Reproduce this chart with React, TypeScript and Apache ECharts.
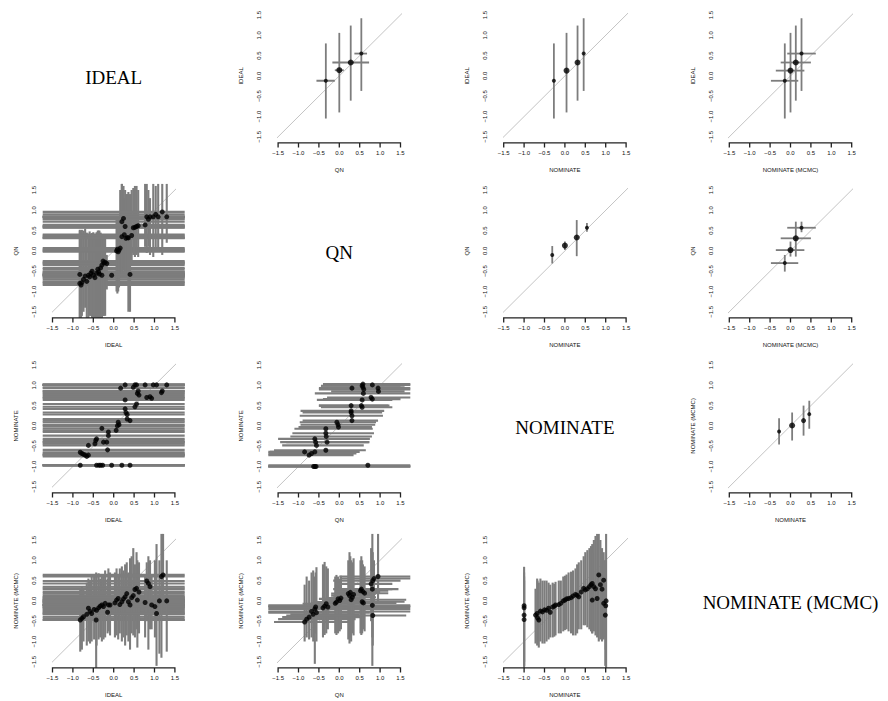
import React, { useEffect, useRef } from "react";
import * as echarts from "echarts";

type V = number | null;
type Pt = [number, number, V, V, V, V]; // x, y, xlo, xhi, ylo, yhi

const VAR_NAMES = ["IDEAL", "QN", "NOMINATE", "NOMINATE (MCMC)"];
const TICKS = [-1.5, -1.0, -0.5, 0.0, 0.5, 1.0, 1.5];
const TICK_MIN = -1.5;
const TICK_MAX = 1.5;
const TICK_STEP = 0.5;

// ---------- upper-triangle panels (aggregated estimates) ----------
const idealVsQn: Pt[] = [
  [-0.33, -0.12, -0.56, -0.11, -1.05, 0.8],
  [0.0, 0.14, -0.11, 0.11, -0.9, 1.06],
  [0.28, 0.33, -0.17, 0.73, -0.61, 1.24],
  [0.54, 0.55, 0.37, 0.68, -0.37, 1.42],
];
const idealVsNom: Pt[] = [
  [-0.27, -0.12, null, null, -1.05, 0.8],
  [0.04, 0.13, null, null, -0.9, 1.06],
  [0.31, 0.33, null, null, -0.61, 1.24],
  [0.46, 0.55, null, null, -0.37, 1.42],
];
const idealVsMcmc: Pt[] = [
  [-0.14, -0.12, -0.48, 0.19, -1.05, 0.8],
  [0.0, 0.13, -0.36, 0.34, -0.9, 1.06],
  [0.13, 0.33, -0.24, 0.5, -0.61, 1.24],
  [0.27, 0.55, -0.08, 0.62, -0.37, 1.42],
];
const qnVsNom: Pt[] = [
  [-0.31, -0.1, null, null, -0.31, 0.12],
  [0.0, 0.13, null, null, 0.02, 0.23],
  [0.29, 0.33, null, null, -0.13, 0.76],
  [0.54, 0.57, null, null, 0.47, 0.69],
];
const qnVsMcmc: Pt[] = [
  [-0.14, -0.3, -0.48, 0.19, -0.51, -0.1],
  [0.0, 0.02, -0.36, 0.34, -0.14, 0.23],
  [0.13, 0.31, -0.24, 0.5, -0.14, 0.72],
  [0.27, 0.57, -0.08, 0.62, 0.46, 0.72],
];
const mcmcVsNomAgg: Pt[] = [
  [-0.28, -0.14, null, null, -0.46, 0.19],
  [0.04, 0.01, null, null, -0.36, 0.33],
  [0.32, 0.13, null, null, -0.24, 0.5],
  [0.46, 0.29, null, null, -0.07, 0.62],
];
const aggSizes = [4, 6, 6, 4];

// ---------- lower-triangle panels (individual estimates) ----------
const qnVsIdeal: Pt[] = [
  [-0.83, -0.8, -2, 2, -1.7, 0.5],
  [-0.8, -0.84, -2, 2, -1.7, 0.45],
  [-0.78, -0.78, -2, 2, -1.6, 0.52],
  [-0.83, -0.58, -2, 2, -1.7, 0.52],
  [-0.74, -0.7, -2, 2, -1.5, 0.5],
  [-0.7, -0.62, -2, 2, -1.4, 0.55],
  [-0.66, -0.75, -2, 2, -1.7, 0.45],
  [-0.62, -0.6, -2, 2, -1.7, 0.42],
  [-0.59, -0.64, -2, 2, -1.6, 0.48],
  [-0.56, -0.55, -2, 2, -1.6, 0.38],
  [-0.53, -0.5, -2, 2, -1.7, 0.44],
  [-0.5, -0.6, -2, 2, -1.7, 0.46],
  [-0.46, -0.66, -2, 2, -1.7, 0.4],
  [-0.42, -0.55, -2, 2, -1.7, 0.46],
  [-0.39, -0.45, -2, 2, -1.7, 0.5],
  [-0.37, -0.52, -2, 2, -1.7, 0.5],
  [-0.35, -0.57, -2, 2, -1.7, 0.5],
  [-0.32, -0.42, -2, 2, -1.7, 0.45],
  [-0.29, -0.6, -2, 2, -1.7, 0.38],
  [-0.29, -0.35, -2, 2, -1.7, 0.38],
  [-0.26, -0.25, -2, 2, -1.6, 0.4],
  [-0.24, -0.3, -2, 2, -1.6, 0.38],
  [-0.21, -0.28, -2, 2, -1.6, 0.36],
  [-0.17, -0.31, -2, 2, -0.95, -0.1],
  [-0.05, -0.6, -2, 2, null, null],
  [0.07, 0.0, -2, 2, -1.0, 0.8],
  [0.09, 0.04, -2, 2, -1.05, 0.85],
  [0.11, -0.02, -2, 2, -1.0, 0.8],
  [0.13, 0.02, -2, 2, -0.9, 0.78],
  [0.16, 0.07, -2, 2, -0.5, 1.5],
  [0.2, 0.72, -2, 2, -0.5, 1.7],
  [0.2, 0.35, -2, 2, -0.6, 1.7],
  [0.24, 0.8, -2, 2, -0.4, 1.6],
  [0.26, 0.4, -2, 2, -0.5, 1.3],
  [0.28, 0.6, -2, 2, -0.5, 1.5],
  [0.3, 0.31, -2, 2, -0.6, 1.4],
  [0.34, 0.33, -2, 2, -0.6, 1.4],
  [0.36, 0.32, -2, 2, -1.5, 1.45],
  [0.4, -0.58, -2, 2, -1.5, 1.4],
  [0.44, 0.38, -2, 2, -0.3, 1.5],
  [0.48, 0.57, -2, 2, -0.1, 1.55],
  [0.52, 0.58, -2, 2, -0.15, 1.6],
  [0.56, 0.6, -2, 2, -0.1, 1.6],
  [0.6, 0.62, -2, 2, -0.15, 1.5],
  [0.77, 0.64, -2, 2, 0.1, 1.7],
  [0.81, 0.84, -2, 2, -0.05, 1.7],
  [0.85, 0.78, -2, 2, 0.1, 1.5],
  [0.89, 0.84, -2, 2, -0.1, 1.3],
  [0.97, 0.84, -2, 2, -0.15, 1.7],
  [1.03, 0.9, -2, 2, 0.05, 1.6],
  [1.09, 0.84, -2, 2, 0.0, 1.7],
  [1.19, 0.96, -2, 2, -0.1, 1.7],
  [1.3, 0.84, -2, 2, 0.2, 1.7],
];

const nomVsIdeal: Pt[] = [
  [-0.82, -0.97, -2, 2, null, null],
  [-0.42, -0.97, -2, 2, null, null],
  [-0.36, -0.97, -2, 2, null, null],
  [-0.32, -0.97, -2, 2, null, null],
  [-0.27, -0.97, -2, 2, null, null],
  [-0.05, -0.97, -2, 2, null, null],
  [0.2, -0.97, -2, 2, null, null],
  [0.4, -0.97, -2, 2, null, null],
  [-0.82, -0.65, -2, 2, null, null],
  [-0.78, -0.68, -2, 2, null, null],
  [-0.74, -0.7, -2, 2, null, null],
  [-0.7, -0.72, -2, 2, null, null],
  [-0.66, -0.75, -2, 2, null, null],
  [-0.62, -0.72, -2, 2, null, null],
  [-0.15, -0.59, -2, 2, null, null],
  [-0.62, -0.48, -2, 2, null, null],
  [-0.46, -0.44, -2, 2, null, null],
  [-0.42, -0.32, -2, 2, null, null],
  [-0.25, -0.4, -2, 2, null, null],
  [-0.17, -0.4, -2, 2, null, null],
  [-0.44, -0.36, -2, 2, null, null],
  [-0.29, -0.06, -2, 2, null, null],
  [-0.13, -0.24, -2, 2, null, null],
  [-0.13, -0.15, -2, 2, null, null],
  [0.06, -0.11, -2, 2, null, null],
  [0.09, 0.0, -2, 2, null, null],
  [0.11, 0.09, -2, 2, null, null],
  [0.13, 0.03, -2, 2, null, null],
  [0.17, 0.93, -2, 2, null, null],
  [0.28, 1.01, -2, 2, null, null],
  [0.28, 0.64, -2, 2, null, null],
  [0.28, 0.42, -2, 2, null, null],
  [0.3, 0.33, -2, 2, null, null],
  [0.33, 0.28, -2, 2, null, null],
  [0.4, 0.13, -2, 2, null, null],
  [0.33, 0.17, -2, 2, null, null],
  [0.48, 0.95, -2, 2, null, null],
  [0.52, 1.01, -2, 2, null, null],
  [0.56, 1.01, -2, 2, null, null],
  [0.52, 0.47, -2, 2, null, null],
  [0.56, 0.54, -2, 2, null, null],
  [0.58, 0.8, -2, 2, null, null],
  [0.6, 0.86, -2, 2, null, null],
  [0.62, 0.76, -2, 2, null, null],
  [0.77, 1.01, -2, 2, null, null],
  [0.81, 0.7, -2, 2, null, null],
  [0.89, 0.72, -2, 2, null, null],
  [0.93, 0.68, -2, 2, null, null],
  [0.97, 1.01, -2, 2, null, null],
  [1.05, 1.01, -2, 2, null, null],
  [1.17, 0.82, -2, 2, null, null],
  [1.19, 0.86, -2, 2, null, null],
  [1.3, 1.01, -2, 2, null, null],
];

const nomVsQn: Pt[] = [
  [-0.6, -1.0, -2, 2, null, null],
  [-0.57, -1.0, -2, 2, null, null],
  [-0.63, -1.0, -2, 2, null, null],
  [0.7, -0.97, -2, 2, null, null],
  [-0.85, -0.64, -1.8, 0.45, null, null],
  [-0.74, -0.72, -1.8, 0.35, null, null],
  [-0.68, -0.68, -1.8, 0.42, null, null],
  [-0.6, -0.64, -1.7, 0.5, null, null],
  [-0.33, -0.6, -1.6, 0.65, null, null],
  [-0.6, -0.32, -1.5, 0.75, null, null],
  [-0.58, -0.4, -1.45, 0.72, null, null],
  [-0.56, -0.48, -1.4, 0.6, null, null],
  [-0.3, -0.4, -1.3, 0.74, null, null],
  [-0.33, -0.07, -1.1, 0.82, null, null],
  [-0.33, -0.18, -1.15, 0.85, null, null],
  [-0.32, -0.26, -1.2, 0.8, null, null],
  [-0.06, 0.09, -0.97, 0.9, null, null],
  [-0.03, 0.03, -0.95, 0.88, null, null],
  [-0.02, -0.03, -1.0, 0.8, null, null],
  [0.29, 0.5, -0.5, 1.2, null, null],
  [0.29, 0.37, -0.95, 1.1, null, null],
  [0.29, 0.33, -0.9, 1.05, null, null],
  [0.31, 0.25, -0.97, 1.07, null, null],
  [0.31, 0.13, -0.9, 0.95, null, null],
  [0.31, 0.93, -0.5, 1.7, null, null],
  [0.54, 0.5, -0.5, 1.23, null, null],
  [0.56, 0.46, -0.45, 1.3, null, null],
  [0.58, 1.03, -0.4, 1.8, null, null],
  [0.58, 0.95, -0.45, 1.5, null, null],
  [0.59, 0.8, -0.6, 1.8, null, null],
  [0.56, 0.64, -0.55, 1.3, null, null],
  [0.56, 0.99, -0.45, 1.6, null, null],
  [0.6, 0.9, -0.5, 1.8, null, null],
  [0.81, 1.01, -0.2, 1.8, null, null],
  [0.78, 0.7, -0.3, 1.8, null, null],
  [0.81, 0.66, -0.4, 1.5, null, null],
  [0.95, 0.93, -0.3, 1.8, null, null],
  [0.96, 0.85, -0.2, 1.6, null, null],
];

const mcmcVsIdeal: Pt[] = [
  [-0.82, -0.47, -2, 2, -1.25, 0.3],
  [-0.78, -0.43, -2, 2, -1.2, 0.35],
  [-0.74, -0.39, -2, 2, -1.0, 0.3],
  [-0.66, -0.33, -2, 2, -1.1, 0.45],
  [-0.62, -0.18, -2, 2, -1.0, 0.55],
  [-0.58, -0.26, -2, 2, -1.05, 0.5],
  [-0.54, -0.31, -2, 2, -1.0, 0.6],
  [-0.48, -0.21, -2, 2, -0.95, 0.62],
  [-0.43, -0.47, -2, 2, -1.7, 0.7],
  [-0.42, -0.23, -2, 2, -1.1, 0.65],
  [-0.37, -0.17, -2, 2, -0.95, 0.68],
  [-0.33, -0.13, -2, 2, -0.9, 0.55],
  [-0.29, -0.1, -2, 2, -1.0, 0.6],
  [-0.25, -0.14, -2, 2, -0.95, 0.66],
  [-0.21, -0.06, -2, 2, -0.9, 0.75],
  [-0.15, -0.28, -2, 2, -0.8, 0.55],
  [-0.13, -0.1, -2, 2, -0.75, 0.8],
  [-0.09, -0.1, -2, 2, -0.85, 0.7],
  [0.03, -0.05, -2, 2, -0.9, 0.7],
  [0.07, 0.02, -2, 2, -0.85, 0.8],
  [0.11, 0.06, -2, 2, -0.95, 0.6],
  [0.15, -0.09, -2, 2, -0.8, 0.8],
  [0.2, -0.02, -2, 2, -1.0, 0.85],
  [0.24, 0.05, -2, 2, -0.9, 0.75],
  [0.28, 0.1, -2, 2, -1.1, 0.9],
  [0.32, 0.18, -2, 2, -0.85, 0.95],
  [0.36, -0.02, -2, 2, -1.0, 0.7],
  [0.4, -0.1, -2, 2, -1.2, 1.05],
  [0.44, 0.08, -2, 2, -0.8, 1.1],
  [0.48, 0.13, -2, 2, -0.85, 1.3],
  [0.52, 0.28, -2, 2, -0.9, 0.9],
  [0.56, 0.31, -2, 2, -0.7, 1.2],
  [0.58, 0.02, -2, 2, -1.15, 1.0],
  [0.62, 0.22, -2, 2, -0.8, 0.95],
  [0.77, -0.04, -2, 2, -0.9, 0.65],
  [0.81, 0.49, -2, 2, -0.5, 0.95],
  [0.85, 0.43, -2, 2, -1.2, 1.1],
  [0.89, 0.35, -2, 2, -0.7, 1.0],
  [0.93, -0.1, -2, 2, -0.7, 0.6],
  [1.01, -0.14, -2, 2, -0.9, 1.0],
  [1.05, -0.31, -2, 2, -1.6, 1.4],
  [1.12, 0.0, -2, 2, -1.3, 1.0],
  [1.17, 0.6, -2, 2, -1.4, 1.7],
  [1.21, 0.64, -2, 2, -0.1, 1.7],
  [1.3, 0.0, -2, 2, -1.25, 1.0],
];

const mcmcVsQn: Pt[] = [
  [-0.85, -0.52, -1.6, 0.25, -1.0, 0.4],
  [-0.8, -0.45, -1.5, 0.4, -0.9, 0.6],
  [-0.74, -0.4, -1.4, 0.6, -0.95, 0.5],
  [-0.68, -0.26, -1.8, 1.8, -0.9, 0.7],
  [-0.64, -0.33, -1.2, 0.5, -1.0, 0.75],
  [-0.6, -0.2, -1.8, 1.8, -1.55, 0.6],
  [-0.56, -0.29, -1.8, 0.75, -1.0, 0.83],
  [-0.58, -0.15, -1.8, 1.8, -0.8, 0.7],
  [-0.4, -0.17, -1.0, 0.5, -0.9, 0.9],
  [-0.36, -0.13, -1.8, 1.8, -0.84, 0.96],
  [-0.32, -0.07, -0.9, 0.6, -0.8, 0.85],
  [-0.28, -0.15, -1.2, 0.9, -0.7, 0.8],
  [-0.1, -0.06, -0.7, 0.4, -0.8, 0.6],
  [-0.07, -0.03, -0.6, 0.5, -0.84, 0.64],
  [-0.03, 0.05, -0.5, 0.45, -0.8, 0.6],
  [0.01, 0.01, -0.4, 0.5, -0.75, 0.55],
  [0.04, 0.07, -0.3, 0.6, -0.7, 0.62],
  [0.22, 0.18, -0.2, 0.9, -0.95, 1.0],
  [0.25, 0.13, -0.2, 0.8, -1.05, 1.2],
  [0.27, 0.21, -0.1, 1.0, -0.9, 1.1],
  [0.29, 0.03, 0.25, 1.64, -1.0, 1.0],
  [0.32, 0.09, -0.15, 0.9, -0.8, 0.95],
  [0.35, 0.16, -0.1, 0.85, -0.85, 1.05],
  [0.52, 0.25, 0.0, 1.2, -0.8, 1.0],
  [0.54, 0.29, 0.0, 1.3, -0.84, 1.1],
  [0.56, -0.02, 0.2, 1.6, -0.8, 1.0],
  [0.58, 0.23, -0.1, 1.0, -0.6, 0.9],
  [0.59, -0.05, 0.2, 1.4, -0.7, 0.8],
  [0.62, 0.19, 0.1, 1.2, -0.75, 0.85],
  [0.78, 0.42, -0.1, 1.3, -0.5, 1.3],
  [0.81, 0.29, -0.15, 1.45, -1.6, 1.7],
  [0.81, -0.11, -1.8, 1.8, -0.9, 0.8],
  [0.82, -0.36, -1.3, 1.64, -1.1, 0.6],
  [0.95, 0.6, 0.0, 1.8, -0.05, 1.7],
  [0.85, 0.55, 0.05, 1.8, -0.2, 1.0],
  [0.82, 0.5, -0.15, 1.5, -0.4, 1.2],
];

const mcmcVsNom: Pt[] = [
  [-1.0, -0.12, null, null, -1.7, 0.84],
  [-1.0, -0.17, null, null, -1.6, 0.7],
  [-1.0, -0.35, null, null, -1.5, 0.6],
  [-1.0, -0.46, null, null, -1.6, 0.5],
  [-0.72, -0.35, null, null, -1.05, 0.3],
  [-0.68, -0.31, null, null, -1.1, 0.55],
  [-0.67, -0.42, null, null, -1.0, 0.5],
  [-0.64, -0.47, null, null, -1.15, 0.45],
  [-0.6, -0.25, null, null, -1.0, 0.55],
  [-0.55, -0.27, null, null, -1.05, 0.5],
  [-0.5, -0.22, null, null, -1.05, 0.5],
  [-0.45, -0.23, null, null, -1.0, 0.5],
  [-0.4, -0.18, null, null, -0.95, 0.45],
  [-0.36, -0.28, null, null, -0.9, 0.4],
  [-0.3, -0.15, null, null, -0.9, 0.45],
  [-0.26, -0.13, null, null, -0.88, 0.42],
  [-0.23, -0.1, null, null, -0.85, 0.47],
  [-0.15, -0.09, null, null, -0.8, 0.5],
  [-0.1, -0.06, null, null, -0.8, 0.5],
  [-0.04, 0.0, null, null, -0.75, 0.6],
  [0.0, 0.02, null, null, -0.72, 0.62],
  [0.04, 0.05, null, null, -0.7, 0.65],
  [0.09, 0.06, null, null, -0.75, 0.7],
  [0.15, 0.08, null, null, -0.8, 0.72],
  [0.2, 0.12, null, null, -0.85, 0.75],
  [0.26, 0.16, null, null, -0.85, 0.8],
  [0.3, 0.14, null, null, -0.8, 0.9],
  [0.34, 0.1, null, null, -0.7, 0.95],
  [0.4, 0.22, null, null, -0.7, 1.0],
  [0.46, 0.31, null, null, -0.6, 1.1],
  [0.5, 0.27, null, null, -0.6, 1.2],
  [0.55, 0.3, null, null, -0.65, 1.25],
  [0.6, 0.35, null, null, -0.7, 1.3],
  [0.64, 0.4, null, null, -0.75, 1.35],
  [0.67, 0.43, null, null, -0.8, 1.4],
  [0.71, 0.35, null, null, -0.75, 1.5],
  [0.67, 0.02, null, null, -0.8, 1.2],
  [0.75, 0.3, null, null, -0.85, 1.6],
  [0.79, 0.06, null, null, -0.9, 1.7],
  [0.83, 0.64, null, null, -1.0, 1.7],
  [0.87, 0.4, null, null, -0.95, 1.5],
  [0.91, 0.29, null, null, -1.0, 1.3],
  [0.95, 0.51, null, null, -0.9, 1.2],
  [0.95, -0.06, null, null, -0.95, 1.0],
  [1.01, 0.0, null, null, -1.7, 1.7],
  [0.99, -0.35, null, null, -1.6, 1.0],
  [1.0, -0.12, null, null, -1.2, 1.0],
];

interface Panel {
  row: number;
  col: number;
  xVar: number;
  yVar: number;
  pts: Pt[];
  sizes?: number[];
  agg: boolean;
}

const PANELS: Panel[] = [
  { row: 0, col: 1, xVar: 1, yVar: 0, pts: idealVsQn, sizes: aggSizes, agg: true },
  { row: 0, col: 2, xVar: 2, yVar: 0, pts: idealVsNom, sizes: aggSizes, agg: true },
  { row: 0, col: 3, xVar: 3, yVar: 0, pts: idealVsMcmc, sizes: aggSizes, agg: true },
  { row: 1, col: 0, xVar: 0, yVar: 1, pts: qnVsIdeal, agg: false },
  { row: 1, col: 2, xVar: 2, yVar: 1, pts: qnVsNom, sizes: aggSizes, agg: true },
  { row: 1, col: 3, xVar: 3, yVar: 1, pts: qnVsMcmc, sizes: aggSizes, agg: true },
  { row: 2, col: 0, xVar: 0, yVar: 2, pts: nomVsIdeal, agg: false },
  { row: 2, col: 1, xVar: 1, yVar: 2, pts: nomVsQn, agg: false },
  { row: 2, col: 3, xVar: 2, yVar: 3, pts: mcmcVsNomAgg, sizes: [4, 6, 5, 4], agg: true },
  { row: 3, col: 0, xVar: 0, yVar: 3, pts: mcmcVsIdeal, agg: false },
  { row: 3, col: 1, xVar: 1, yVar: 3, pts: mcmcVsQn, agg: false },
  { row: 3, col: 2, xVar: 2, yVar: 3, pts: mcmcVsNom, agg: false },
];

// ---------- layout ----------
const X0 = 52.5; // pixel of x = -1.5 in first column
const CW = 225.6; // column pitch
const PX = 40.8; // px per unit (x)
const Y0 = 15; // pixel of y = 1.5 in first row
const RH = 175; // row pitch
const PY = 40.6; // px per unit (y)
const XPAD = 0.24;
const YPAD = 0.15;
const XLIM = TICK_MAX + XPAD;
const YLIM = TICK_MAX + YPAD;
const TICK_LEN = 4;

const SANS = "Liberation Sans, Arial, Helvetica, sans-serif";
const SERIF = "Liberation Serif, DejaVu Serif, serif";
const BAR_GRAY = "#7d7d7d";
const AXIS_COLOR = "#222222";

const clamp = (v: number, lim: number) => Math.max(-lim, Math.min(lim, v));
const fmt = (v: number) => v.toFixed(1).replace("-", "\u2212");

function makeAxis(gridIndex: number, isX: boolean, name: string) {
  return {
    type: "value",
    gridIndex,
    min: TICK_MIN,
    max: TICK_MAX,
    interval: TICK_STEP,
    position: isX ? "bottom" : "left",
    offset: isX ? YPAD * PY : XPAD * PX,
    name,
    nameLocation: "middle",
    nameGap: 24,
    nameTextStyle: { fontSize: 6, fontFamily: SANS, color: "#111" },
    axisLine: { show: false, onZero: false },
    axisTick: { show: false },
    splitLine: { show: false },
    axisLabel: {
      show: true,
      fontSize: 6,
      fontFamily: SANS,
      color: "#111",
      margin: isX ? 7 : 6,
      rotate: isX ? 0 : 90,
      formatter: fmt,
      showMinLabel: true,
      showMaxLabel: true,
    },
  };
}

function bar(a: number[], b: number[], w: number, fill: string) {
  const x = Math.min(a[0], b[0]);
  const y = Math.min(a[1], b[1]);
  const horiz = Math.abs(a[1] - b[1]) < 0.01;
  return {
    type: "rect",
    shape: horiz
      ? { x, y: y - w / 2, width: Math.abs(b[0] - a[0]), height: w }
      : { x: x - w / 2, y, width: w, height: Math.abs(b[1] - a[1]) },
    style: { fill },
  };
}

// axis polyline (line + ticks) in data units, broken into segments with "-"
function axisPath(): any[] {
  const d: any[] = [];
  const dy = TICK_LEN / PY;
  const dx = TICK_LEN / PX;
  d.push([TICK_MIN, -YLIM], [TICK_MAX, -YLIM], "-");
  TICKS.forEach((t) => d.push([t, -YLIM], [t, -YLIM - dy], "-"));
  d.push([-XLIM, TICK_MIN], [-XLIM, TICK_MAX], "-");
  TICKS.forEach((t) => d.push([-XLIM, t], [-XLIM - dx, t], "-"));
  return d;
}

function buildOption() {
  const grid: any[] = [];
  const xAxis: any[] = [];
  const yAxis: any[] = [];
  const series: any[] = [];
  const title: any[] = [];

  PANELS.forEach((p, i) => {
    const left = X0 + p.col * CW;
    const top = Y0 + p.row * RH;
    grid.push({ left, top, width: 3 * PX, height: 3 * PY });
    xAxis.push(makeAxis(i, true, VAR_NAMES[p.xVar]));
    yAxis.push(makeAxis(i, false, VAR_NAMES[p.yVar]));

    // 45-degree reference line, across the plotting region
    series.push({
      type: "line",
      xAxisIndex: i,
      yAxisIndex: i,
      data: [
        [-YLIM, -YLIM],
        [YLIM, YLIM],
      ],
      symbol: "none",
      silent: true,
      clip: false,
      z: 1,
      lineStyle: { color: "#c4c4c4", width: 1 },
    });

    // R-style axis lines and outward ticks
    series.push({
      type: "line",
      xAxisIndex: i,
      yAxisIndex: i,
      data: axisPath(),
      connectNulls: false,
      symbol: "none",
      silent: true,
      clip: false,
      z: 4,
      lineStyle: { color: AXIS_COLOR, width: 1.3, cap: "square" },
    });

    const lw = p.agg ? 1.8 : 2.1;
    const pts = p.pts;
    series.push({
      type: "custom",
      xAxisIndex: i,
      yAxisIndex: i,
      data: pts.map((q) => [q[0], q[1]]),
      encode: { x: 0, y: 1 },
      silent: true,
      clip: false,
      z: 2,
      renderItem: (params: any, api: any) => {
        const q = pts[params.dataIndex];
        const children: any[] = [];
        if (q[2] != null && q[3] != null) {
          const a = api.coord([clamp(q[2], XLIM), q[1]]);
          const b = api.coord([clamp(q[3], XLIM), q[1]]);
          children.push(bar(a, b, lw, BAR_GRAY));
        }
        if (q[4] != null && q[5] != null) {
          const a = api.coord([q[0], clamp(q[4], YLIM)]);
          const b = api.coord([q[0], clamp(q[5], YLIM)]);
          children.push(bar(a, b, lw, BAR_GRAY));
        }
        return { type: "group", children };
      },
    });

    const sizes = p.sizes;
    series.push({
      type: "scatter",
      xAxisIndex: i,
      yAxisIndex: i,
      data: pts.map((q) => [q[0], q[1]]),
      symbol: "circle",
      symbolSize: sizes ? (_v: any, prm: any) => sizes[prm.dataIndex] : 5,
      itemStyle: { color: "#000" },
      silent: true,
      clip: false,
      z: 3,
    });
  });

  // diagonal panel labels
  VAR_NAMES.forEach((name, k) => {
    title.push({
      text: name,
      left: X0 + k * CW + 1.5 * PX,
      top: Y0 + k * RH + 1.5 * PY + 2,
      textAlign: "center",
      textVerticalAlign: "middle",
      padding: 0,
      textStyle: { fontSize: 19, fontFamily: SERIF, fontWeight: "normal", color: "#000" },
    });
  });

  return {
    animation: false,
    title,
    grid,
    xAxis,
    yAxis,
    series,
  };
}

export default function App() {
  const ref = useRef<HTMLDivElement>(null);
  useEffect(() => {
    if (!ref.current) return;
    const chart = echarts.init(ref.current, undefined, { renderer: "svg" });
    chart.setOption(buildOption() as any);
    return () => chart.dispose();
  }, []);
  return (
    <div
      ref={ref}
      style={{ position: "fixed", left: 0, top: 0, width: 888, height: 701, background: "#fff" }}
    />
  );
}
